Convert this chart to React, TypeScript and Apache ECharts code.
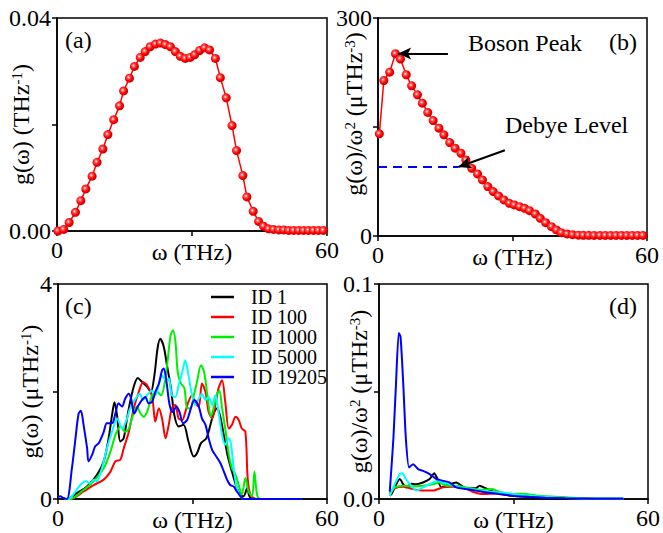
import React, { useEffect, useRef } from "react";
import * as echarts from "echarts";

const FONT = "Liberation Serif";

// ---- Panel (a): g(ω) ----
const omegaA = [0.2, 1.5, 2.7, 4.1, 5.3, 6.4, 7.8, 8.9, 10.2, 11.3, 12.6, 13.9, 14.8, 16.1, 17.2, 18.5, 19.6, 20.7, 21.9, 23.0, 24.1, 25.2, 26.3, 27.4, 28.5, 29.6, 30.6, 31.7, 32.8, 33.9, 35.2, 36.3, 37.6, 38.9, 39.9, 41.3, 42.2, 43.6, 44.8, 45.9, 47.0, 48.1, 49.3, 50.4, 51.5, 52.6, 53.7, 54.8, 55.9, 57.0, 58.1, 59.2];
const gA = [0.0, 0.0003, 0.0016, 0.0035, 0.0057, 0.0079, 0.0103, 0.0129, 0.0154, 0.0181, 0.0209, 0.0235, 0.0263, 0.0287, 0.0309, 0.0326, 0.0337, 0.0346, 0.0351, 0.0353, 0.035, 0.0346, 0.0337, 0.0328, 0.0324, 0.0326, 0.0331, 0.0339, 0.0344, 0.034, 0.0324, 0.0288, 0.025, 0.0198, 0.0151, 0.0104, 0.0064, 0.0037, 0.0018, 0.0009, 0.0004, 0.0003, 0.0002, 0.0002, 0.0001, 0.0001, 0.0001, 0.0001, 0.0001, 0.0001, 0.0001, 0.0001];

// ---- Panel (b): g(ω)/ω² ----
const omegaB = [0.3, 1.3, 2.6, 3.9, 5.0, 6.3, 7.5, 8.8, 9.9, 11.1, 12.3, 13.6, 14.7, 16.0, 17.2, 18.5, 19.6, 20.9, 22.2, 23.3, 24.5, 25.7, 26.9, 28.1, 29.3, 30.4, 31.6, 32.7, 33.8, 35.1, 36.2, 37.4, 38.7, 39.8, 40.9, 42.2, 43.4, 44.7, 45.8, 47.0, 48.2, 49.5, 50.7, 51.9, 53.1, 54.3, 55.5, 56.7, 57.9, 59.1];
const gB = [140.6, 214, 225.5, 250.8, 243.5, 221.9, 206.7, 194.3, 182.8, 170, 158.9, 148.4, 139.2, 128.6, 120.8, 113.9, 104.7, 93.2, 85.4, 77.2, 68, 61.1, 55.1, 49.6, 45, 42.7, 40.4, 38.1, 34.9, 30.3, 24.3, 18.4, 12.9, 8.3, 4.6, 2.8, 1.8, 1.2, 1.0, 0.9, 0.8, 0.8, 0.8, 0.8, 0.8, 0.8, 0.8, 0.8, 0.8, 0.8];
const debyeLevel = [[0, 95], [17.9, 95]];
const bosonArrow = [[15.6, 251], [4.5, 251]];
const debyeArrow = [[28.3, 118], [17.9, 95]];

// ---- Panel (c): g(ω) per ID ----
const names = ["ID 1", "ID 100", "ID 1000", "ID 5000", "ID 19205"];
const colors = ["#000000", "#ff0000", "#00ee00", "#00ffff", "#0000ff"];

const id1C = [[1.5, 0], [2.0, 0], [4.24, 0.11], [6.47, 0.235], [8.7, 0.45], [10.2, 0.7], [11.3, 1.13], [12.05, 1.56], [12.6, 1.8], [13.16, 1.56], [13.9, 1.07], [14.65, 1.13], [15.4, 1.5], [16.1, 1.81], [17.0, 2.12], [17.8, 2.25], [18.7, 2.18], [19.85, 2.09], [20.7, 1.99], [21.5, 2.3], [22.2, 2.8], [22.8, 2.98], [23.6, 2.83], [24.3, 2.49], [25.2, 2.06], [25.95, 1.56], [26.9, 1.35], [28.0, 1.38], [29.1, 1.07], [30.3, 0.79], [31.0, 0.85], [31.9, 1.04], [33.1, 1.13], [34.0, 1.38], [34.7, 1.59], [35.5, 1.69], [36.2, 1.53], [37.1, 1.13], [37.8, 0.82], [38.8, 0.51], [39.9, 0.2], [40.7, 0.08], [41.4, 0.05], [42.2, 0.2], [42.7, 0.05], [43.6, 0], [54.4, 0]];
const id100C = [[2.0, 0], [2.75, 0], [5.72, 0.14], [7.95, 0.26], [10.2, 0.36], [11.7, 0.51], [12.8, 0.7], [13.9, 0.73], [14.65, 0.94], [15.8, 1.25], [16.9, 1.69], [18.0, 1.99], [19.0, 2.17], [19.85, 2.12], [21.0, 1.9], [21.7, 1.44], [22.5, 1.69], [23.2, 1.5], [24.0, 1.13], [24.7, 1.38], [25.4, 1.69], [26.2, 1.75], [26.9, 1.5], [27.7, 1.47], [28.4, 1.62], [29.1, 1.81], [29.9, 1.93], [30.6, 1.78], [31.4, 1.72], [32.1, 2.15], [32.9, 1.99], [33.6, 1.62], [34.4, 1.5], [35.1, 1.75], [35.8, 2.06], [36.6, 2.21], [37.3, 1.81], [38.1, 1.31], [38.8, 1.38], [39.6, 1.53], [40.3, 1.47], [41.0, 1.31], [41.8, 1.25], [42.3, 0.39], [42.9, 0.08], [43.6, 0.02], [44.4, 0], [54.4, 0]];
const id1000C = [[2.0, 0], [2.75, 0], [5.72, 0.17], [7.95, 0.33], [10.2, 0.57], [11.7, 0.88], [12.8, 1.19], [13.9, 1.35], [15.0, 1.25], [15.8, 1.31], [16.5, 1.5], [17.6, 1.72], [18.4, 1.59], [19.1, 1.53], [20.0, 1.65], [21.0, 1.93], [22.1, 1.99], [23.0, 1.93], [23.7, 2.12], [24.5, 2.61], [25.1, 3.04], [25.65, 3.14], [26.2, 2.92], [26.7, 2.36], [27.4, 2.15], [28.2, 2.06], [28.8, 1.69], [29.5, 1.69], [30.3, 1.93], [31.0, 2.18], [31.9, 2.49], [32.6, 2.36], [33.4, 1.87], [34.1, 1.53], [34.7, 1.69], [35.5, 1.96], [36.0, 2.02], [36.6, 1.69], [37.3, 1.31], [38.1, 0.82], [38.8, 0.57], [39.6, 0.45], [40.3, 0.26], [41.0, 0.08], [41.8, 0.39], [42.5, 0.14], [43.3, 0.05], [43.8, 0.51], [44.4, 0.08], [45.1, 0], [54.4, 0]];
const id5000C = [[1.5, 0], [2.75, 0.02], [4.98, 0.26], [6.1, 0.33], [7.2, 0.3], [7.95, 0.36], [8.7, 0.33], [9.8, 0.57], [10.9, 0.94], [12.05, 1.25], [13.2, 1.5], [14.3, 1.31], [15.4, 1.5], [16.1, 1.69], [17.3, 1.87], [18.2, 1.96], [19.0, 1.84], [19.85, 1.93], [21.0, 2.02], [21.7, 1.93], [22.5, 2.12], [23.2, 2.3], [24.0, 2.21], [24.7, 2.24], [25.4, 1.93], [26.2, 1.9], [26.9, 2.12], [27.7, 2.36], [28.4, 2.58], [29.1, 2.3], [29.9, 1.93], [30.6, 1.75], [31.4, 1.87], [32.1, 1.96], [32.9, 1.84], [33.6, 1.9], [34.4, 1.75], [35.1, 1.93], [35.8, 1.62], [36.6, 1.19], [37.3, 1.01], [38.1, 1.13], [38.6, 1.01], [39.2, 0.57], [39.9, 0.2], [40.7, 0.05], [41.4, 0], [54.4, 0]];
const id19205C = [[0, 0.03], [0.52, 0.05], [1.2, 0.02], [2.0, 0], [3.1, 0.57], [3.9, 1.13], [4.6, 1.59], [5.1, 1.64], [5.7, 1.38], [6.5, 0.94], [6.8, 0.7], [7.6, 0.82], [8.3, 0.98], [9.1, 1.04], [10.2, 1.25], [10.9, 1.41], [12.05, 1.41], [12.8, 1.59], [13.5, 1.78], [14.3, 1.72], [15.0, 1.87], [15.8, 1.96], [16.3, 1.87], [17.0, 1.59], [17.8, 1.72], [18.7, 1.84], [19.5, 1.9], [20.2, 1.78], [21.0, 1.81], [21.7, 1.99], [22.5, 2.15], [23.2, 2.39], [23.6, 2.43], [24.2, 2.18], [24.9, 1.75], [25.6, 1.62], [26.4, 1.72], [27.1, 1.62], [27.9, 1.41], [28.8, 1.47], [29.5, 1.65], [30.4, 1.84], [31.4, 1.72], [32.1, 1.5], [32.9, 1.38], [33.6, 1.13], [34.4, 0.91], [35.3, 0.79], [36.2, 0.67], [37.0, 0.51], [37.7, 0.36], [38.4, 0.26], [39.2, 0.23], [39.9, 0.14], [40.7, 0.05], [41.4, 0], [54.4, 0]];

// ---- Panel (d): g(ω)/ω² per ID ----
const id1D = [[2.4, 0.0015], [2.8, 0.0023], [4.65, 0.0093], [5.4, 0.0069], [6.1, 0.0054], [7.2, 0.0071], [8.3, 0.0069], [9.8, 0.0077], [11.3, 0.0093], [12.3, 0.012], [12.9, 0.01], [13.9, 0.0054], [15.3, 0.0065], [17.2, 0.0077], [19.4, 0.005], [21.6, 0.005], [22.4, 0.0062], [23.8, 0.005], [26.0, 0.0031], [29.7, 0.0015], [33.4, 0.0009], [37.1, 0.0005], [42, 0.0002], [48, 0.0001], [54.5, 0.0001]];
const id100D = [[2.4, 0.0028], [3.5, 0.005], [5.4, 0.0057], [7.6, 0.0046], [9.8, 0.0039], [12.1, 0.0039], [14.2, 0.0054], [16.5, 0.0057], [18.7, 0.0054], [20.9, 0.0034], [23.1, 0.0023], [26.0, 0.0026], [29.7, 0.0015], [34.9, 0.001], [40.1, 0.0008], [43.0, 0.0005], [48, 0.0002], [54.5, 0.0001]];
const id1000D = [[2.4, 0.0023], [3.5, 0.0054], [5.4, 0.0062], [7.6, 0.0059], [9.8, 0.0062], [12.1, 0.0069], [13.5, 0.0077], [15.0, 0.0062], [17.2, 0.0062], [19.4, 0.0054], [22.4, 0.0043], [25.3, 0.0046], [26.8, 0.0034], [29.7, 0.0023], [32.0, 0.0025], [35.6, 0.0015], [40.1, 0.0009], [45, 0.0004], [54.5, 0.0001]];
const id5000D = [[2.4, 0.0015], [3.5, 0.0069], [4.65, 0.0116], [5.2, 0.012], [6.0, 0.0093], [7.2, 0.0062], [8.3, 0.0039], [9.8, 0.0054], [11.3, 0.0069], [13.1, 0.0085], [14.2, 0.0077], [15.7, 0.0069], [17.9, 0.0054], [20.1, 0.0046], [22.4, 0.0039], [26.0, 0.0031], [28.3, 0.0028], [31.2, 0.0019], [35.6, 0.0012], [40.1, 0.0006], [46, 0.0002], [54.5, 0.0001]];
const id19205D = [[2.4, 0.0034], [3.2, 0.0278], [3.8, 0.054], [4.4, 0.0772], [4.8, 0.0756], [5.4, 0.054], [6.0, 0.0278], [6.7, 0.0147], [7.6, 0.0162], [8.7, 0.0139], [9.8, 0.0131], [11.3, 0.0116], [12.8, 0.0093], [14.2, 0.0085], [15.7, 0.0077], [17.2, 0.0054], [19.4, 0.0046], [21.6, 0.0039], [23.8, 0.0031], [26.8, 0.0023], [29.7, 0.0015], [33.4, 0.001], [37.1, 0.0006], [41.5, 0.0003], [48, 0.0001], [54.5, 0.0001]];

const dataC = [id1C, id100C, id1000C, id5000C, id19205C];
const dataD = [id1D, id100D, id1000D, id5000D, id19205D];

const near = (a: number, b: number) => Math.abs(a - b) < 1e-9;

const axisLineStyle = { color: "#000", width: 1.5 };
const serif = { fontFamily: FONT, fontSize: 24, color: "#000" };

function xAxis(gi: number) {
  return {
    type: "value",
    gridIndex: gi,
    min: 0,
    max: 60,
    interval: 30,
    axisLine: { show: true, onZero: false, lineStyle: axisLineStyle },
    axisTick: { show: true, length: 5, lineStyle: axisLineStyle },
    splitLine: { show: false },
    axisLabel: {
      ...serif,
      margin: 7,
      formatter: (v: number) => (near(v, 30) ? "" : `{t|${v}}`),
      rich: { t: serif },
    },
    name: "{t|ω (THz)}",
    nameLocation: "middle",
    nameGap: 9,
    nameMoveOverlap: false,
    nameTextStyle: { ...serif, rich: { t: serif } },
  };
}

function yAxis(gi: number, max: number, digits: number, nameRich: string, nameGap: number, pad: number) {
  return {
    type: "value",
    gridIndex: gi,
    min: 0,
    max,
    interval: max / 2,
    axisLine: { show: true, onZero: false, lineStyle: axisLineStyle },
    axisTick: { show: true, length: 5, lineStyle: axisLineStyle },
    splitLine: { show: false },
    axisLabel: {
      ...serif,
      margin: 6,
      formatter: (v: number) => (near(v, max / 2) ? "" : `{t|${v.toFixed(digits)}}`),
      rich: { t: serif },
    },
    name: nameRich,
    nameLocation: "middle",
    nameRotate: 90,
    nameGap,
    nameMoveOverlap: false,
    nameTextStyle: {
      ...serif,
      padding: [0, 0, 0, pad],
      rich: {
        n: serif,
        s: { fontFamily: FONT, fontSize: 15, color: "#000", verticalAlign: "top" },
      },
    },
  };
}

const sphere = {
  type: "radial",
  x: 0.4,
  y: 0.4,
  r: 0.6,
  colorStops: [
    { offset: 0, color: "#ffffff" },
    { offset: 0.3, color: "#ff5050" },
    { offset: 0.65, color: "#ff0000" },
    { offset: 1, color: "#c80000" },
  ],
};

function idLine(name: string, data: number[][], color: string, gi: number, smooth: number) {
  return {
    type: "line",
    name,
    data,
    xAxisIndex: gi,
    yAxisIndex: gi,
    symbol: "none",
    showSymbol: false,
    smooth,
    lineStyle: { color, width: 2 },
    itemStyle: { color },
    silent: true,
    z: 3,
  };
}

function buildOption() {
  const series: any[] = [
    {
      type: "line",
      name: "a",
      data: omegaA.map((w, i) => [w, gA[i]]),
      xAxisIndex: 0,
      yAxisIndex: 0,
      symbol: "circle",
      symbolSize: 9,
      showSymbol: true,
      lineStyle: { color: "#ff0000", width: 1.5 },
      itemStyle: { color: sphere, borderWidth: 0 },
      silent: true,
    },
    {
      type: "line",
      name: "b",
      data: omegaB.map((w, i) => [w, gB[i]]),
      xAxisIndex: 1,
      yAxisIndex: 1,
      symbol: "circle",
      symbolSize: 9,
      showSymbol: true,
      lineStyle: { color: "#ff0000", width: 1.5 },
      itemStyle: { color: sphere, borderWidth: 0 },
      silent: true,
      z: 3,
    },
    {
      type: "line",
      name: "debye",
      data: debyeLevel,
      xAxisIndex: 1,
      yAxisIndex: 1,
      symbol: "none",
      lineStyle: { color: "#0000ff", width: 2, type: [9, 6] },
      itemStyle: { color: "#0000ff" },
      silent: true,
      z: 2,
      markLine: {
        silent: true,
        symbol: ["none", "arrow"],
        symbolSize: [9, 13],
        label: { show: false },
        lineStyle: { color: "#000", width: 2, type: "solid" },
        data: [
          [{ coord: bosonArrow[0] }, { coord: bosonArrow[1] }],
          [{ coord: debyeArrow[0] }, { coord: debyeArrow[1] }],
        ],
      },
    },
  ];
  names.forEach((n, i) => series.push(idLine(n, dataC[i], colors[i], 2, 0.3)));
  names.forEach((n, i) => series.push(idLine(n, dataD[i], colors[i], 3, 0.2)));

  const gridBase = { show: true, borderColor: "#000", borderWidth: 1.5, backgroundColor: "transparent" };

  const txt = (text: string, x: number, y: number) => ({
    type: "text",
    x,
    y,
    silent: true,
    style: { text, font: `24px ${FONT}`, fill: "#000", align: "left", verticalAlign: "middle" },
  });

  return {
    animation: false,
    backgroundColor: "#ffffff",
    textStyle: { fontFamily: FONT },
    grid: [
      { ...gridBase, left: 57, top: 18, width: 270, height: 213 },
      { ...gridBase, left: 378, top: 18, width: 269, height: 218 },
      { ...gridBase, left: 58, top: 284, width: 269, height: 217 },
      { ...gridBase, left: 379, top: 284, width: 271, height: 216 },
    ],
    xAxis: [xAxis(0), xAxis(1), xAxis(2), xAxis(3)],
    yAxis: [
      yAxis(0, 0.04, 2, "{n|g(ω) (THz}{s|-1}{n|)}", 24, 0),
      yAxis(1, 300, 0, "{n|g(ω)/ω}{s|2}{n| (μTHz}{s|-3}{n|)}", 12, 26),
      yAxis(2, 4, 0, "{n|g(ω) (μTHz}{s|-1}{n|)}", 16, 0),
      yAxis(3, 0.1, 1, "{n|g(ω)/ω}{s|2}{n| (μTHz}{s|-3}{n|)}", 8, 0),
    ],
    legend: {
      data: names,
      orient: "vertical",
      left: 211,
      top: 287,
      padding: 0,
      itemGap: 0,
      itemWidth: 23,
      itemHeight: 2.5,
      icon: "rect",
      selectedMode: false,
      textStyle: { fontFamily: FONT, fontSize: 20, color: "#000", lineHeight: 20, padding: [0, 0, 0, 12] },
    },
    series,
    graphic: [
      txt("(a)", 65, 40),
      txt("(b)", 609, 42),
      txt("(c)", 65, 306),
      txt("(d)", 609, 306),
      txt("Boson Peak", 468, 43),
      txt("Debye Level", 505, 125),
    ],
  };
}

export default function App() {
  const ref = useRef<HTMLDivElement>(null);
  useEffect(() => {
    if (!ref.current) return;
    const chart = echarts.init(ref.current, null, { renderer: "svg" });
    chart.setOption(buildOption() as any);
    return () => chart.dispose();
  }, []);
  return <div ref={ref} style={{ position: "fixed", left: 0, top: 0, width: 663, height: 533 }} />;
}
